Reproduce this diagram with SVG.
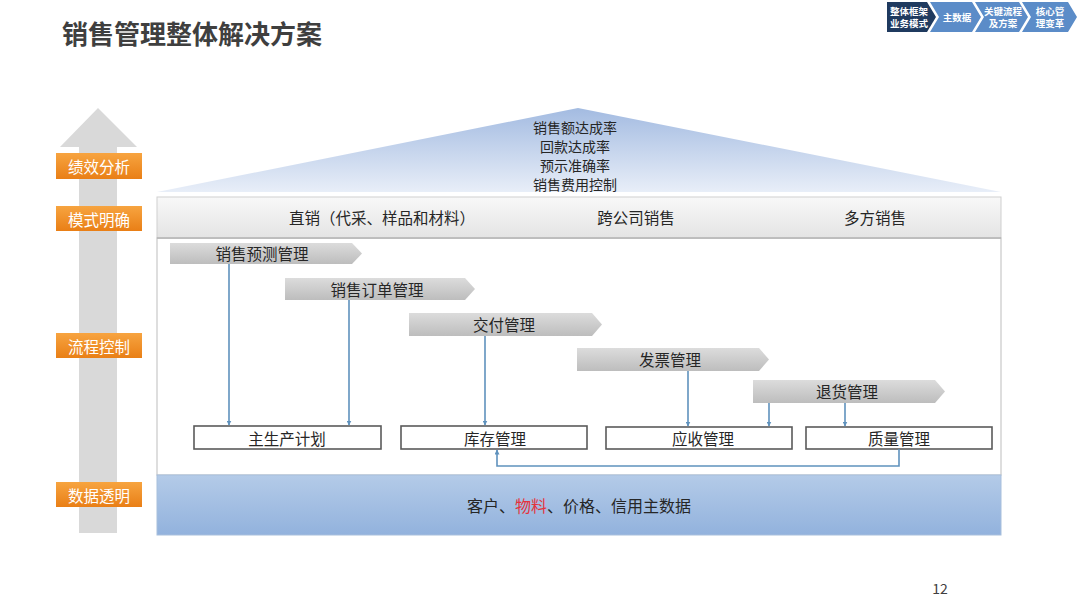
<svg xmlns="http://www.w3.org/2000/svg" width="1080" height="607" viewBox="0 0 1080 607">
<style>
text{font-family:"Noto Sans CJK SC","Noto Sans",sans-serif;dominant-baseline:central}
.t15{font-size:15.5px;fill:#262626;text-anchor:middle}
.roof{font-size:14px;fill:#262626;text-anchor:middle}
.lbl{font-size:15.5px;fill:#ffffff;text-anchor:middle}
.nav{font-size:9.5px;fill:#ffffff;text-anchor:middle;font-weight:bold}
.box{fill:#ffffff;stroke:#5a5a5a;stroke-width:1.6}
.ban{fill:url(#gBan)}
.con{fill:none;stroke:#5f92bd;stroke-width:1.6}
.olab{fill:url(#gOr)}
</style>
<defs>
<linearGradient id="gTri" x1="0" y1="0" x2="0" y2="1">
<stop offset="0" stop-color="#a3bbe1"/>
<stop offset="1" stop-color="#e8eef8"/>
</linearGradient>
<linearGradient id="gBand" x1="0" y1="0" x2="0" y2="1">
<stop offset="0" stop-color="#f8f8f8"/>
<stop offset="1" stop-color="#e4e4e4"/>
</linearGradient>
<linearGradient id="gData" x1="0" y1="0" x2="0" y2="1">
<stop offset="0" stop-color="#b4cbe8"/>
<stop offset="1" stop-color="#92b2dd"/>
</linearGradient>
<linearGradient id="gBan" x1="0" y1="0" x2="0" y2="1">
<stop offset="0" stop-color="#dcdcdc"/>
<stop offset="1" stop-color="#bdbdbd"/>
</linearGradient>
<linearGradient id="gOr" x1="0" y1="0" x2="0" y2="1">
<stop offset="0" stop-color="#f7a440"/>
<stop offset="1" stop-color="#e97f16"/>
</linearGradient>
<marker id="arr" viewBox="0 0 10 10" refX="9" refY="5" markerWidth="5" markerHeight="5" orient="auto" markerUnits="userSpaceOnUse">
<path d="M0,0 L10,5 L0,10 z" fill="#5f92bd"/>
</marker>
</defs>

<rect width="1080" height="607" fill="#ffffff"/>

<!-- Title -->
<text id="title" x="62" y="32" style="font-size:26px;font-weight:bold;fill:#3f3f3f">销售管理整体解决方案</text>

<!-- Top navigation -->
<g id="nav">
<path d="M887,2 L927,2 L936,17 L927,32 L887,32 Z" fill="#1f3a5f"/>
<text class="nav" x="909" y="11">整体框架</text>
<text class="nav" x="909" y="23">业务模式</text>
<path d="M930,2 L972,2 L981,17 L972,32 L930,32 L939,17 Z" fill="#5b8cc8"/>
<text class="nav" x="957" y="17">主数据</text>
<path d="M975,2 L1019,2 L1028,17 L1019,32 L975,32 L984,17 Z" fill="#5b8cc8"/>
<text class="nav" x="1003" y="11">关键流程</text>
<text class="nav" x="1003" y="23">及方案</text>
<path d="M1022,2 L1068,2 L1077,17 L1068,32 L1022,32 L1031,17 Z" fill="#5b8cc8"/>
<text class="nav" x="1050" y="11">核心管</text>
<text class="nav" x="1050" y="23">理变革</text>
</g>

<!-- Left big arrow -->
<g id="bigArrow">
<path d="M79,533 L79,147 L60,147 L98,108 L137,147 L117,147 L117,533 Z" fill="#d9d9d9"/>
</g>

<!-- Orange labels -->
<g id="lab1"><rect class="olab" x="56" y="153" width="86" height="26"/><text class="lbl" x="99" y="166">绩效分析</text></g>
<g id="lab2"><rect class="olab" x="56" y="206" width="86" height="25"/><text class="lbl" x="99" y="218.5">模式明确</text></g>
<g id="lab3"><rect class="olab" x="56" y="333" width="86" height="25"/><text class="lbl" x="99" y="345.5">流程控制</text></g>
<g id="lab4"><rect class="olab" x="56" y="482" width="86" height="25"/><text class="lbl" x="99" y="494.5">数据透明</text></g>

<!-- Roof triangle -->
<g id="roof">
<path d="M157,192 L578,108 L1001,192 Z" fill="url(#gTri)"/>
<text class="roof" x="575" y="127.4">销售额达成率</text>
<text class="roof" x="575" y="146.2">回款达成率</text>
<text class="roof" x="575" y="165.1">预示准确率</text>
<text class="roof" x="575" y="184">销售费用控制</text>
</g>

<!-- Main frame -->
<g id="frame">
<rect x="157" y="238" width="844" height="237" fill="#ffffff" stroke="#c8c8c8" stroke-width="1.2"/>
</g>

<!-- Mode band -->
<g id="modeBand">
<rect x="157" y="197" width="844" height="41" fill="url(#gBand)" stroke="#cfcfcf" stroke-width="1"/>
<line x1="157" y1="238" x2="1001" y2="238" stroke="#b5b5b5" stroke-width="1.5"/>
<text class="t15" x="382" y="217">直销（代采、样品和材料）</text>
<text class="t15" x="636" y="217">跨公司销售</text>
<text class="t15" x="875" y="217">多方销售</text>
</g>

<!-- Data band -->
<g id="dataBand">
<rect x="157" y="475" width="844" height="60" fill="url(#gData)" stroke="#a8bfdc" stroke-width="1"/>
<text x="579" y="505" style="font-size:16px;fill:#262626;text-anchor:middle">客户、<tspan fill="#e5323b">物料</tspan>、价格、信用主数据</text>
</g>

<!-- Process banners -->
<g id="b1"><path class="ban" d="M170,243 L352,243 L362,253.5 L352,264 L170,264 Z"/><text class="t15" x="262" y="253">销售预测管理</text></g>
<g id="b2"><path class="ban" d="M285,278 L465,278 L475,289 L465,300 L285,300 Z"/><text class="t15" x="377" y="288.5">销售订单管理</text></g>
<g id="b3"><path class="ban" d="M409,313 L592,313 L602,324.5 L592,336 L409,336 Z"/><text class="t15" x="504" y="324">交付管理</text></g>
<g id="b4"><path class="ban" d="M577,348 L759,348 L769,359.5 L759,371 L577,371 Z"/><text class="t15" x="670" y="359">发票管理</text></g>
<g id="b5"><path class="ban" d="M753,380 L935,380 L945,391.5 L935,403 L753,403 Z"/><text class="t15" x="847" y="391">退货管理</text></g>

<!-- Boxes -->
<g id="n1"><rect class="box" x="194" y="426" width="187" height="23"/><text class="t15" x="287" y="437.5">主生产计划</text></g>
<g id="n2"><rect class="box" x="401" y="426" width="186" height="23"/><text class="t15" x="495" y="437.5">库存管理</text></g>
<g id="n3"><rect class="box" x="606" y="427" width="186" height="22"/><text class="t15" x="703" y="438">应收管理</text></g>
<g id="n4"><rect class="box" x="806" y="427" width="186" height="22"/><text class="t15" x="899" y="438">质量管理</text></g>

<!-- Connectors -->
<g id="connectors">
<line class="con" x1="229" y1="264" x2="229" y2="425" marker-end="url(#arr)"/>
<line class="con" x1="349" y1="300" x2="349" y2="425" marker-end="url(#arr)"/>
<line class="con" x1="485" y1="336" x2="485" y2="425" marker-end="url(#arr)"/>
<line class="con" x1="688" y1="371" x2="688" y2="426" marker-end="url(#arr)"/>
<line class="con" x1="769" y1="403" x2="769" y2="426" marker-end="url(#arr)"/>
<line class="con" x1="845" y1="403" x2="845" y2="426" marker-end="url(#arr)"/>
<path class="con" d="M899,449 L899,466 L497,466 L497,450" marker-end="url(#arr)"/>
</g>

<!-- Page number -->
<text id="page" x="940" y="588" style="font-size:14px;fill:#404040;text-anchor:middle">12</text>
</svg>
